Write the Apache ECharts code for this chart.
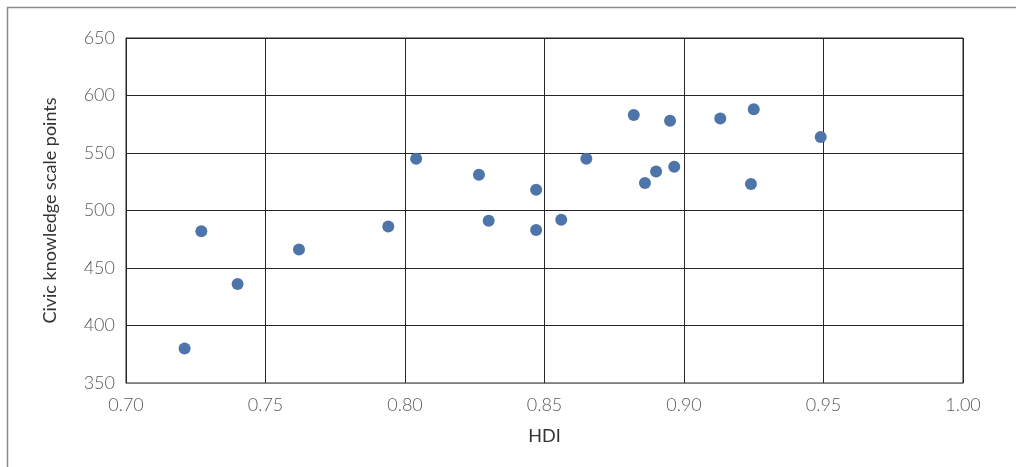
<!DOCTYPE html>
<html>
<head>
<meta charset="utf-8">
<script src="https://cdn.jsdelivr.net/npm/echarts@6/dist/echarts.min.js"></script>
<style>
html,body{margin:0;padding:0;background:#fff;}
#chart{width:1016px;height:467px;}
</style>
</head>
<body>
<div id="chart"></div>
<script>
const hdi = [0.721, 0.727, 0.740, 0.762, 0.794, 0.804, 0.8265, 0.830, 0.847, 0.847, 0.856, 0.865, 0.882, 0.886, 0.890, 0.895, 0.8965, 0.913, 0.924, 0.925, 0.949];
const civic = [380, 482, 436, 466, 486, 545, 531, 491, 518, 483, 492, 545, 583, 524, 534, 578, 538, 580, 523, 588, 564];
const xTicks = [0.70, 0.75, 0.80, 0.85, 0.90, 0.95, 1.00];
const yTicks = [350, 400, 450, 500, 550, 600, 650];
const xName = 'HDI';
const yName = 'Civic knowledge scale points';

const chart = echarts.init(document.getElementById('chart'));
const gridColor = '#262626';
chart.setOption({
  animation: false,
  graphic: [{
    type: 'rect',
    shape: {x: 7.5, y: 7.5, width: 1020, height: 470},
    style: {fill: 'none', stroke: '#8c8c8c', lineWidth: 1.5},
    silent: true
  }],
  grid: {left: 126, right: 53, top: 38, bottom: 84, show: true, borderColor: gridColor, borderWidth: 1, backgroundColor: 'transparent'},
  xAxis: {
    type: 'value',
    min: xTicks[0], max: xTicks[xTicks.length - 1], interval: 0.05,
    name: xName, nameLocation: 'middle', nameGap: 44,
    nameTextStyle: {fontFamily: 'Lato', fontSize: 18, color: '#333'},
    axisLine: {show: true, lineStyle: {color: '#7f7f7f', width: 1}},
    axisTick: {show: false},
    splitLine: {show: true, lineStyle: {color: gridColor, width: 1}},
    axisLabel: {fontFamily: 'Lato', fontWeight: 300, fontSize: 18, color: '#595959', margin: 13,
      formatter: v => v.toFixed(2)}
  },
  yAxis: {
    type: 'value',
    min: yTicks[0], max: yTicks[yTicks.length - 1], interval: 50,
    name: yName, nameLocation: 'middle', nameGap: 67,
    nameTextStyle: {fontFamily: 'Lato', fontSize: 18, color: '#333'},
    axisLine: {show: true, lineStyle: {color: gridColor, width: 1}},
    axisTick: {show: false},
    splitLine: {show: true, lineStyle: {color: gridColor, width: 1}},
    axisLabel: {fontFamily: 'Lato', fontWeight: 300, fontSize: 18, color: '#595959', margin: 11}
  },
  series: [{
    type: 'scatter',
    data: hdi.map((x, i) => [x, civic[i]]),
    symbol: 'circle',
    symbolSize: 12,
    itemStyle: {color: '#4e75aa', opacity: 1}
  }]
});
</script>
</body>
</html>
